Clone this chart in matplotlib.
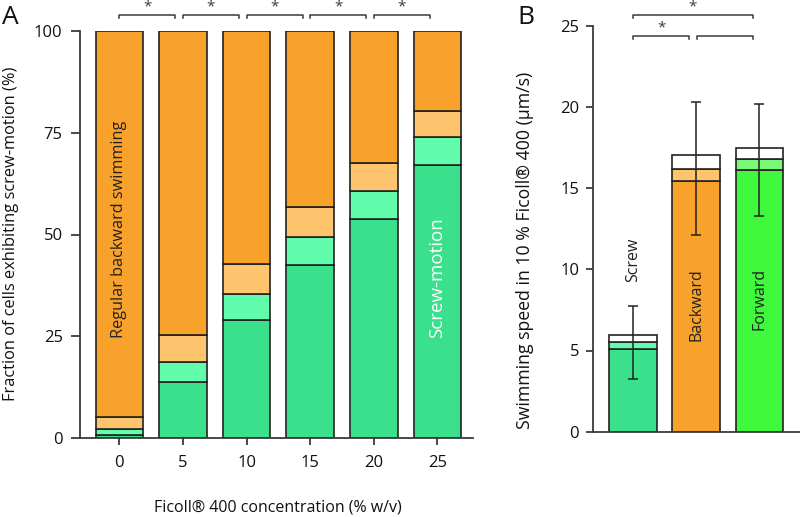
import matplotlib
matplotlib.use("Agg")
import matplotlib.pyplot as plt
import numpy as np

plt.rcParams['font.family'] = ['Open Sans', 'DejaVu Sans']

# ---- Panel A data (cumulative tops, %) ----
conc_labels = ['0', '5', '10', '15', '20', '25']
screw = [0.7, 13.8, 29.0, 42.6, 53.8, 67.1]          # screw-motion (green)
screw_light = [2.1, 18.7, 35.4, 49.5, 60.7, 74.0]    # light green top
back_light = [5.2, 25.2, 42.7, 56.8, 67.6, 80.3]     # light orange top
total = [100, 100, 100, 100, 100, 100]

# ---- Panel B data (µm/s) ----
b_labels = ['Screw', 'Backward', 'Forward']
b_base = [5.07, 15.44, 16.1]
b_mid = [5.5, 16.2, 16.77]
b_top = [5.95, 17.03, 17.45]
b_err_center = [5.5, 16.2, 16.75]
b_err_up = [7.76, 20.32, 20.2]
b_err_low = [3.24, 12.09, 13.3]

ORANGE = '#F9A22B'
LORANGE = '#FEC56E'
GREEN = '#3BE08D'
LGREEN = '#62FCAD'
FGREEN = '#40F83C'
LFGREEN = '#7AF877'
EDGE = '#222222'
SPINE = '#3a3a3a'

W, H = 800, 517
fig = plt.figure(figsize=(8, 5.17), dpi=100)

def px(x0, y0, x1, y1):
    return [x0 / W, 1 - y1 / H, (x1 - x0) / W, (y1 - y0) / H]

axA = fig.add_axes(px(80, 31, 473, 438))
axB = fig.add_axes(px(593.3, 25.7, 800, 431.7))

lw_bar = 1.2
x = np.arange(len(conc_labels))
bw = 0.75
bottoms = np.zeros(len(x))
for tops, col in [(screw, GREEN), (screw_light, LGREEN), (back_light, LORANGE), (total, ORANGE)]:
    tops = np.array(tops, dtype=float)
    axA.bar(x, tops - bottoms, bw, bottom=bottoms, color=col, edgecolor=EDGE, linewidth=lw_bar, zorder=2)
    bottoms = tops

axA.set_xlim(-0.62, 5.56)
axA.set_ylim(0, 100)
axA.set_yticks([0, 25, 50, 75, 100])
axA.set_xticks(x)
axA.set_xticklabels(conc_labels)
for s in ['top', 'right']:
    axA.spines[s].set_visible(False)

axA.text(0, 51.3, 'Regular backward swimming', rotation=90, ha='center', va='center', fontsize=11.7, color='#222222', zorder=3)
axA.text(5, 39.5, 'Screw-motion', rotation=90, ha='center', va='center', fontsize=13.5, color='white', zorder=3)

# significance brackets A
for i in range(5):
    x0, x1 = i, i + 0.88
    yb = 103.9
    axA.plot([x0, x0, x1, x1], [yb - 0.8, yb, yb, yb - 0.8], color=SPINE, lw=1.1, clip_on=False)
    axA.text(i + 0.44, yb + 0.2, '*', ha='center', va='bottom', fontsize=11, color=SPINE, clip_on=False)

# Panel B
xb = np.arange(3)
base_cols = [GREEN, ORANGE, FGREEN]
mid_cols = [LGREEN, LORANGE, LFGREEN]
for i in range(3):
    axB.bar(xb[i], b_base[i], bw, color=base_cols[i], edgecolor=EDGE, linewidth=lw_bar, zorder=2)
    axB.bar(xb[i], b_mid[i] - b_base[i], bw, bottom=b_base[i], color=mid_cols[i], edgecolor=EDGE, linewidth=lw_bar, zorder=2)
    axB.bar(xb[i], b_top[i] - b_mid[i], bw, bottom=b_mid[i], color='white', edgecolor=EDGE, linewidth=lw_bar, zorder=2)

err_low = np.array(b_err_center) - np.array(b_err_low)
err_up = np.array(b_err_up) - np.array(b_err_center)
axB.errorbar(xb, b_err_center, yerr=[err_low, err_up], fmt='none', ecolor=EDGE, elinewidth=1.1, capsize=3.5, capthick=1.1, zorder=3)

axB.set_xlim(-0.624, 2.64)
axB.set_ylim(0, 25)
axB.set_yticks([0, 5, 10, 15, 20, 25])
axB.set_xticks([])
for s in ['top', 'right']:
    axB.spines[s].set_visible(False)

axB.text(0, 10.57, 'Screw', rotation=90, ha='center', va='center', fontsize=11.5, color='#222222')
axB.text(1, 10.08, 'Backward', rotation=90, ha='center', va='top', fontsize=11.5, color='#222222', zorder=4)
axB.text(2, 10.08, 'Forward', rotation=90, ha='center', va='top', fontsize=11.5, color='#222222', zorder=4)

# brackets B
def bracket(ax, x0, x1, y, d=0.2):
    ax.plot([x0, x0, x1, x1], [y - d, y, y, y - d], color=SPINE, lw=1.1, clip_on=False)
bracket(axB, 0, 1.89, 25.66)
bracket(axB, 0, 0.89, 24.37)
bracket(axB, 1.01, 1.89, 24.37)
axB.text(0.94, 25.70, '*', ha='center', va='bottom', fontsize=11, color=SPINE, clip_on=False)
axB.text(0.45, 24.41, '*', ha='center', va='bottom', fontsize=11, color=SPINE, clip_on=False)

for ax, tl in [(axA, 6.5), (axB, 5.2)]:
    for s in ['left', 'bottom']:
        ax.spines[s].set_color(SPINE)
        ax.spines[s].set_linewidth(1.3)
    ax.tick_params(axis='both', direction='out', length=tl, width=1.3, color=SPINE, labelsize=12, labelcolor='#111111', pad=5)
axA.tick_params(axis='x', length=5, pad=7)
axA.tick_params(axis='y', pad=6)

fig.text(11 / W, 1 - 234 / H, 'Fraction of cells exhibiting screw-motion (%)', rotation=90, ha='center', va='center', fontsize=11.8, color='#111111')
fig.text(278 / W, 1 - 507 / H, 'Ficoll® 400 concentration (% w/v)', ha='center', va='center', fontsize=11.5, color='#111111')
fig.text(525 / W, 1 - 250 / H, 'Swimming speed in 10 % Ficoll® 400 (µm/s)', rotation=90, ha='center', va='center', fontsize=12.7, color='#111111')
fig.text(10 / W, 1 - 18 / H, 'A', ha='center', va='center', fontsize=19, color='#111111')
fig.text(526 / W, 1 - 17 / H, 'B', ha='center', va='center', fontsize=19, color='#111111')

fig.savefig('out.png', dpi=100)
